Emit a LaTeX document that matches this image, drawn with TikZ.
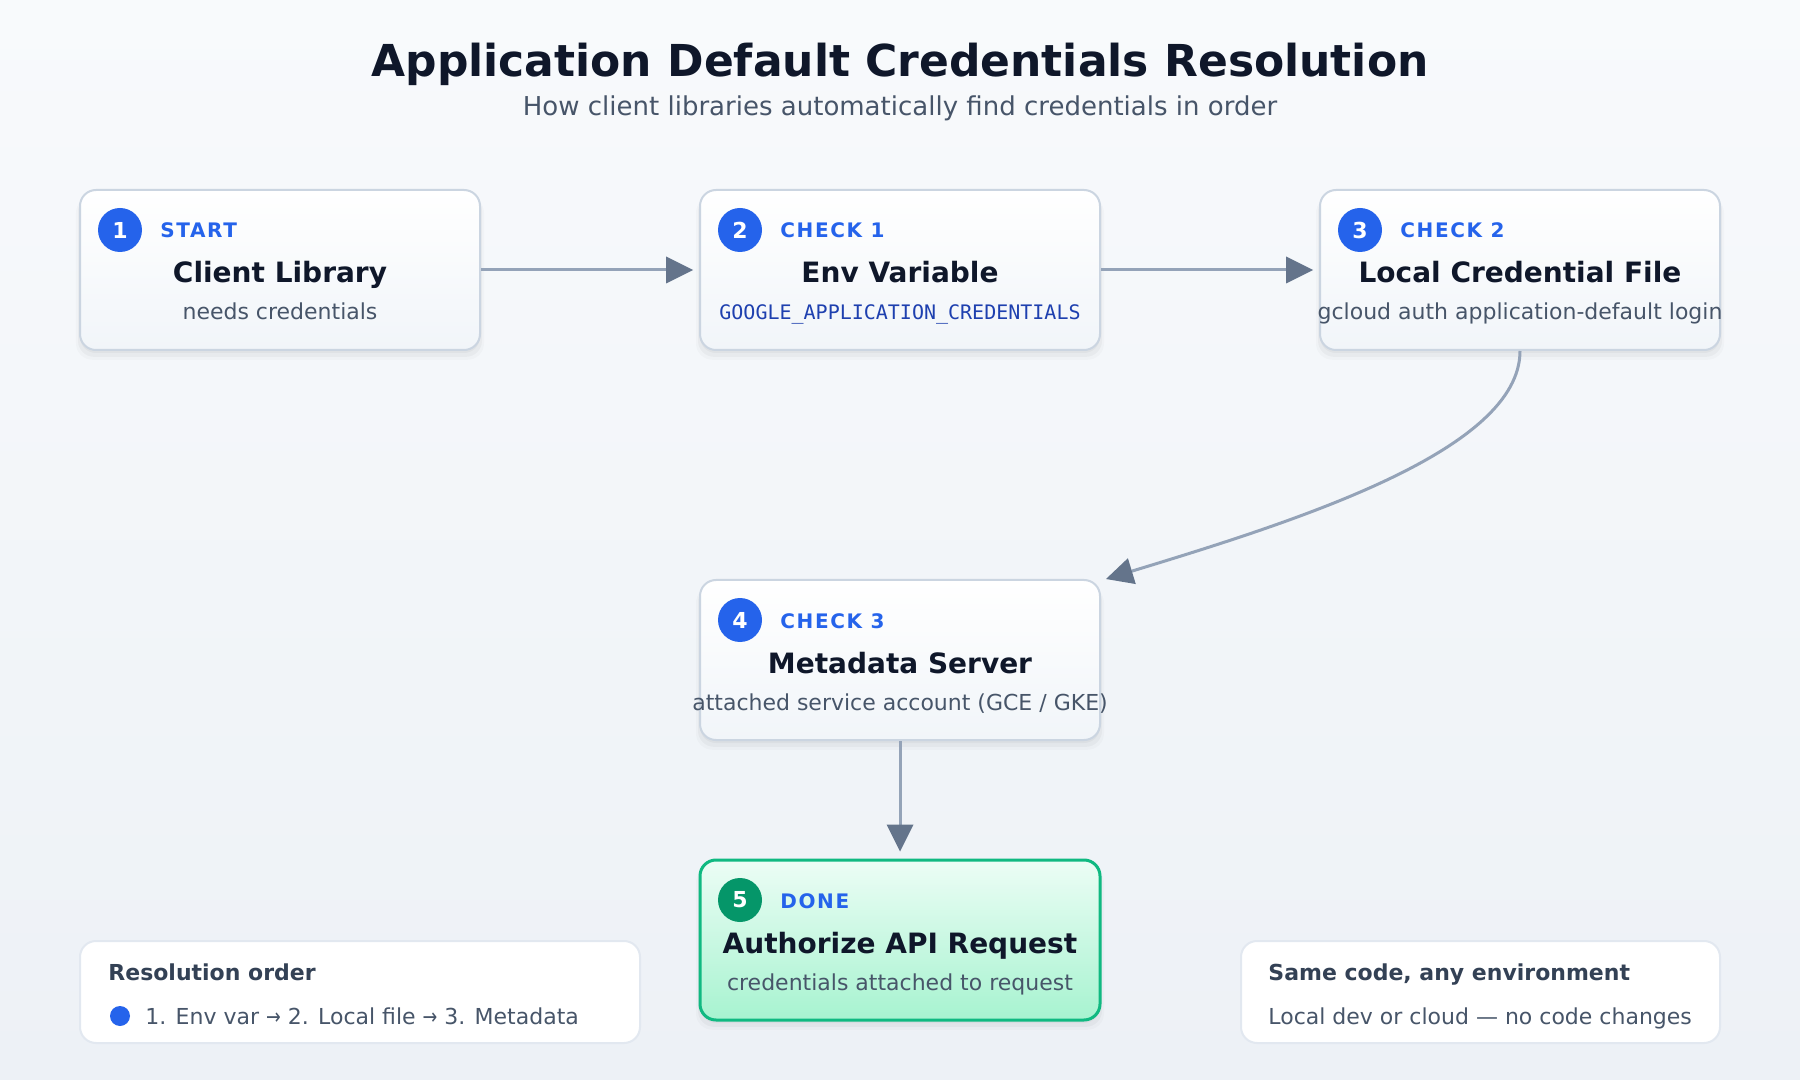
\documentclass[tikz,border=0pt]{standalone}
\usepackage{fontspec}
\setmainfont{DejaVu Sans}
\newfontfamily\monofont{DejaVu Sans Mono}
\newfontfamily\lblfont{DejaVu Sans}[LetterSpace=8]
\usetikzlibrary{arrows.meta,shadows}
\definecolor{bgtop}{HTML}{F8FAFC}
\definecolor{bgbot}{HTML}{EDF1F6}
\definecolor{ink}{HTML}{0F172A}
\definecolor{slatesub}{HTML}{475569}
\definecolor{slatehead}{HTML}{334155}
\definecolor{cardborder}{HTML}{CBD5E1}
\definecolor{cardbot}{HTML}{F1F5F9}
\definecolor{noteborder}{HTML}{E2E8F0}
\definecolor{blueacc}{HTML}{2563EB}
\definecolor{monoblue}{HTML}{1E40AF}
\definecolor{greenacc}{HTML}{059669}
\definecolor{greenborder}{HTML}{10B981}
\definecolor{greentop}{HTML}{ECFDF5}
\definecolor{greenbot}{HTML}{A7F3D0}
\definecolor{linecol}{HTML}{94A3B8}
\definecolor{tipcol}{HTML}{64748B}
\tikzset{
  softshadow/.style={
    general shadow={fill=black, opacity=0.02, shadow yshift=-4pt, shadow scale=1.02},
    general shadow={fill=black, opacity=0.03, shadow yshift=-3pt, shadow scale=1.01},
    general shadow={fill=black, opacity=0.03, shadow yshift=-1.5pt}},
  card/.style={draw=cardborder, line width=1pt, rounded corners=8pt,
    top color=white, bottom color=cardbot, minimum width=200pt,
    minimum height=80pt, inner sep=0pt, softshadow},
  donecard/.style={card, draw=greenborder, line width=1.5pt,
    top color=greentop, bottom color=greenbot},
  note/.style={draw=noteborder, line width=1pt, rounded corners=8pt,
    fill=white, minimum height=51pt, inner sep=0pt},
  badge/.style={circle, fill=blueacc, minimum size=22pt, inner sep=0pt,
    text=white, font=\bfseries\fontsize{11}{13}\selectfont},
  lbl/.style={anchor=base west, text=blueacc, inner sep=0pt,
    font=\lblfont\bfseries\fontsize{10}{12}\selectfont},
  ttl/.style={anchor=base, text=ink, inner sep=0pt,
    font=\bfseries\fontsize{14}{16}\selectfont},
  subt/.style={anchor=base, text=slatesub, inner sep=0pt,
    font=\fontsize{11}{13}\selectfont},
  monot/.style={anchor=base, text=monoblue, inner sep=0pt,
    font=\monofont\fontsize{10}{12}\selectfont},
  notehead/.style={anchor=base west, text=slatehead, inner sep=0pt,
    font=\bfseries\fontsize{11}{13}\selectfont},
  notebody/.style={anchor=base west, text=slatesub, inner sep=0pt,
    font=\fontsize{11}{13}\selectfont},
  flow/.style={draw=linecol, line width=1.5pt,
    -{Triangle[length=13.5pt,width=13.5pt,color=tipcol,line width=0pt]}},
}
\newcommand{\narrowarrow}{\scalebox{0.8}[1]{→}}
\begin{document}
\begin{tikzpicture}[x=0.5pt,y=-0.5pt]
\shade[top color=bgtop, bottom color=bgbot] (0,0) rectangle (1800,1080);
\useasboundingbox (0,0) rectangle (1800,1080);

% title
\node[anchor=base, text=ink, inner sep=0pt, font=\bfseries\fontsize{22}{26}\selectfont]
  (title) at (900,77) {Application Default Credentials Resolution};
\node[anchor=base, text=slatesub, inner sep=0pt, font=\fontsize{13}{16}\selectfont]
  (subtitle) at (900,116) {How client libraries automatically find credentials in order};

% cards
\node[card] (box1) at (280,270) {};
\node[card] (box2) at (900,270) {};
\node[card] (box3) at (1520,270) {};
\node[card] (box4) at (900,660) {};
\node[donecard] (box5) at (900,940) {};

% box 1
\node[badge] (b1) at (120,230) {1};
\node[lbl] (l1) at (160,238) {START};
\node[ttl] (t1) at (280,283) {Client Library};
\node[subt] (s1) at (280,320) {needs credentials};

% box 2
\node[badge] (b2) at (740,230) {2};
\node[lbl] (l2) at (780,238) {CHECK 1};
\node[ttl] (t2) at (900,283) {Env Variable};
\node[monot] (s2) at (900,320) {GOOGLE\_APPLICATION\_CREDENTIALS};

% box 3
\node[badge] (b3) at (1360,230) {3};
\node[lbl] (l3) at (1400,238) {CHECK 2};
\node[ttl] (t3) at (1520,283) {Local Credential File};
\node[subt] (s3) at (1520,320) {gcloud auth application-default login};

% box 4
\node[badge] (b4) at (740,620) {4};
\node[lbl] (l4) at (780,628) {CHECK 3};
\node[ttl] (t4) at (900,673) {Metadata Server};
\node[subt] (s4) at (900,710) {attached service account (GCE / GKE)};

% box 5
\node[badge, fill=greenacc] (b5) at (740,900) {5};
\node[lbl] (l5) at (780,908) {DONE};
\node[ttl] (t5) at (900,953) {Authorize API Request};
\node[subt] (s5) at (900,990) {credentials attached to request};

% connectors
\coordinate (c4) at (1106,579);
\draw[flow] (box1.east) -- ([xshift=-3pt]box2.west);
\draw[flow] (box2.east) -- ([xshift=-3pt]box3.west);
\draw[flow] (box3.south) .. controls (1520,450) and (1300,520) .. (c4);
\draw[flow] (box4.south) -- ([yshift=3.5pt]box5.north);

% notes
\node[note, minimum width=280pt] (noteL) at (360,992) {};
\node[notehead] (nlh) at (108,980) {Resolution order};
\node[circle, fill=blueacc, minimum size=10pt, inner sep=0pt] (dot) at (120,1016) {};
\node[notebody] (nlb) at (145,1024) {1. Env var \narrowarrow{} 2. Local file \narrowarrow{} 3. Metadata};

\node[note, minimum width=239.5pt] (noteR) at (1480.5,992) {};
\node[notehead] (nrh) at (1268,980) {Same code, any environment};
\node[notebody] (nrb) at (1268,1024) {Local dev or cloud — no code changes};
\end{tikzpicture}
\end{document}
